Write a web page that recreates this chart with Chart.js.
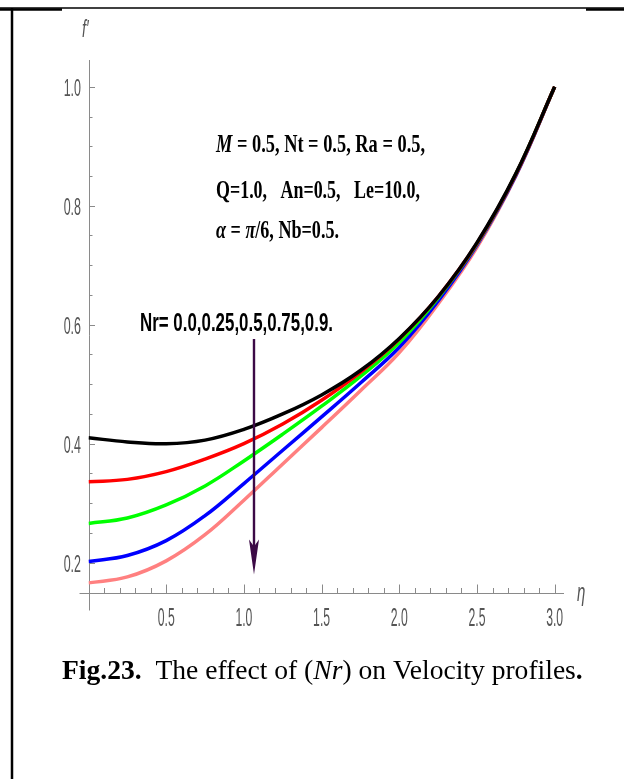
<!DOCTYPE html>
<html lang="en">
<head>
<meta charset="UTF-8">
<title>Fig.23 - effect of Nr on velocity profiles</title>
<script src="https://cdn.jsdelivr.net/npm/chart.js@4.4.0/dist/chart.umd.min.js"></script>
<style>
    body { margin: 0; background: #fff; }
    #wrap { position: relative; width: 624px; height: 779px; }
</style>
</head>
<body>
<div id="wrap"><canvas id="velChart" width="624" height="779"></canvas></div>
<script>
    // eta grid and f' values
    const etaValues = [0, 0.25, 0.5, 0.75, 1.0, 1.25, 1.5, 1.75, 2.0, 2.25, 2.5, 2.75, 3.0];
    const fNr000 = [0.410, 0.403, 0.400, 0.406, 0.424, 0.450, 0.482, 0.523, 0.577, 0.647, 0.738, 0.854, 1.0];
    const fNr025 = [0.336, 0.340, 0.353, 0.374, 0.400, 0.433, 0.473, 0.520, 0.576, 0.647, 0.737, 0.853, 1.0];
    const fNr050 = [0.266, 0.275, 0.297, 0.329, 0.371, 0.416, 0.463, 0.513, 0.570, 0.645, 0.736, 0.853, 1.0];
    const fNr075 = [0.202, 0.212, 0.237, 0.279, 0.333, 0.389, 0.445, 0.502, 0.562, 0.640, 0.734, 0.851, 1.0];
    const fNr090 = [0.166, 0.176, 0.203, 0.247, 0.305, 0.366, 0.427, 0.489, 0.553, 0.635, 0.730, 0.850, 1.0];

    const seriesLabels = ['Nr = 0.0', 'Nr = 0.25', 'Nr = 0.5', 'Nr = 0.75', 'Nr = 0.9'];
    const seriesColors = ['#000000', '#ff0000', '#00ff00', '#0000ff', '#ff8080'];

    const xTickValues = [0.5, 1.0, 1.5, 2.0, 2.5, 3.0];
    const xTickLabels = ['0.5', '1.0', '1.5', '2.0', '2.5', '3.0'];
    const yTickValues = [0.2, 0.4, 0.6, 0.8, 1.0];
    const yTickLabels = ['0.2', '0.4', '0.6', '0.8', '1.0'];

    const allSeries = [fNr000, fNr025, fNr050, fNr075, fNr090];

    const datasets = allSeries.map((vals, i) => ({
        label: seriesLabels[i],
        data: etaValues.map((eta, k) => ({ x: eta, y: vals[k] })),
        borderColor: seriesColors[i],
        borderWidth: 3.5,
        pointRadius: 0,
        showLine: true,
        fill: false,
        tension: 0.4
    }));

    // draw text squeezed horizontally (the original uses a very narrow face)
    function squeezed(ctx, text, x, y, font, sx, align) {
        ctx.save();
        ctx.font = font;
        ctx.translate(x, y);
        ctx.scale(sx, 1);
        ctx.textAlign = align || 'left';
        ctx.fillText(text, 0, 0);
        ctx.restore();
    }

    // run of styled pieces squeezed into a given width
    function fittedRun(ctx, pieces, x, y, width) {
        let total = 0;
        pieces.forEach(p => { ctx.font = p[1]; total += ctx.measureText(p[0]).width; });
        const sx = width / total;
        ctx.save();
        ctx.translate(x, y);
        ctx.scale(sx, 1);
        let cx = 0;
        pieces.forEach(p => {
            ctx.font = p[1];
            ctx.fillText(p[0], cx, 0);
            cx += ctx.measureText(p[0]).width;
        });
        ctx.restore();
    }

    const frame = {
        id: 'frame',
        beforeDraw(chart) {
            const ctx = chart.ctx;
            ctx.save();
            ctx.fillStyle = '#fff';
            ctx.fillRect(0, 0, chart.width, chart.height);
            ctx.strokeStyle = '#000';
            ctx.lineWidth = 1.5;
            ctx.beginPath(); ctx.moveTo(0, 8); ctx.lineTo(624, 8); ctx.stroke();
            ctx.lineWidth = 2.5;
            ctx.beginPath(); ctx.moveTo(0, 9.5); ctx.lineTo(62, 9.5); ctx.stroke();
            ctx.beginPath(); ctx.moveTo(586, 9.5); ctx.lineTo(624, 9.5); ctx.stroke();
            ctx.beginPath(); ctx.moveTo(12, 8); ctx.lineTo(12, 779); ctx.stroke();
            ctx.restore();
        }
    };

    const axes = {
        id: 'axes',
        beforeDatasetsDraw(chart) {
            const { ctx, chartArea } = chart;
            const xs = chart.scales.x, ys = chart.scales.y;
            const x0 = Math.round(xs.getPixelForValue(0)) + 0.5;
            const yb = Math.round(ys.getPixelForValue(ys.min)) + 0.5;
            ctx.save();
            ctx.strokeStyle = '#8a8a8a';
            ctx.lineWidth = 1;
            ctx.beginPath();
            ctx.moveTo(x0, chartArea.top); ctx.lineTo(x0, yb + 17);
            ctx.moveTo(x0 - 10, yb); ctx.lineTo(chartArea.right, yb);
            ctx.stroke();

            // x ticks: major every 0.5, minor every 0.1
            ctx.beginPath();
            for (let k = 1; k <= 30; k++) {
                const px = Math.round(xs.getPixelForValue(k / 10)) + 0.5;
                const len = k % 5 === 0 ? 9 : 5.5;
                ctx.moveTo(px, yb); ctx.lineTo(px, yb - len);
            }
            // y ticks: major every 0.2, minor every 0.05
            for (let k = 4; k <= 20; k++) {
                const py = Math.round(ys.getPixelForValue(k / 20)) + 0.5;
                if (py > yb - 2) continue;
                const len = k % 4 === 0 ? 5.5 : 3;
                ctx.moveTo(x0, py); ctx.lineTo(x0 + len, py);
            }
            ctx.stroke();

            ctx.fillStyle = '#555';
            ctx.textBaseline = 'alphabetic';
            xTickValues.forEach((v, i) => {
                squeezed(ctx, xTickLabels[i], xs.getPixelForValue(v), 626, '26px "Liberation Sans"', 0.47, 'center');
            });
            yTickValues.forEach((v, i) => {
                squeezed(ctx, yTickLabels[i], 81, ys.getPixelForValue(v) + 9.5, '24px "Liberation Sans"', 0.52, 'right');
            });
            squeezed(ctx, 'f\u2032', 82, 37, 'italic 24px "Liberation Sans"', 0.6, 'left');
            squeezed(ctx, '\u03b7', 577, 601, 'italic 25px "Liberation Sans"', 0.6, 'left');
            ctx.restore();
        },
        afterDatasetsDraw(chart) {
            const ctx = chart.ctx;
            const xs = chart.scales.x, ys = chart.scales.y;
            ctx.save();
            ctx.fillStyle = '#000';
            const serifB = 'bold 26px "Liberation Serif"';
            const serifBI = 'italic bold 26px "Liberation Serif"';
            fittedRun(ctx, [['M', serifBI], [' = 0.5, Nt = 0.5, Ra = 0.5,', serifB]], 216, 152, 209);
            fittedRun(ctx, [['Q=1.0,   An=0.5,   Le=10.0,', serifB]], 216, 198, 204);
            fittedRun(ctx, [['\u03b1', serifBI], [' = ', serifB], ['\u03c0', serifBI], ['/6, Nb=0.5.', serifB]], 216, 238, 123);
            fittedRun(ctx, [['Nr= 0.0,0.25,0.5,0.75,0.9.', 'bold 26px "Liberation Sans"']], 140, 331, 193);

            // arrow pointing towards increasing Nr
            const ax = xs.getPixelForValue(1.065);
            const aTop = ys.getPixelForValue(0.576);
            const aTip = ys.getPixelForValue(0.180);
            ctx.save();
            ctx.strokeStyle = '#3c0a46';
            ctx.fillStyle = '#3c0a46';
            ctx.lineWidth = 2.4;
            ctx.beginPath(); ctx.moveTo(ax, aTop); ctx.lineTo(ax, aTip - 20); ctx.stroke();
            ctx.beginPath();
            ctx.moveTo(ax, aTip);
            ctx.lineTo(ax - 5, aTip - 35);
            ctx.lineTo(ax, aTip - 28);
            ctx.lineTo(ax + 5, aTip - 35);
            ctx.closePath();
            ctx.fill();
            ctx.restore();

            // caption: font size chosen so the line spans the same width
            const capParts = [
                ['Fig.23.', 'bold'],
                ['  The effect of (', ''],
                ['Nr', 'italic'],
                [') on Velocity profiles', ''],
                ['.', 'bold']
            ];
            const capFont = (style, size) => (style ? style + ' ' : '') + size + 'px "Liberation Serif"';
            let w = 0;
            capParts.forEach(p => { ctx.font = capFont(p[1], 20); w += ctx.measureText(p[0]).width; });
            const capSize = 20 * 521 / w;
            let cx = 62;
            ctx.fillStyle = '#000';
            capParts.forEach(p => {
                ctx.font = capFont(p[1], capSize);
                ctx.fillText(p[0], cx, 679);
                cx += ctx.measureText(p[0]).width;
            });
            ctx.restore();
        }
    };

    new Chart(document.getElementById('velChart'), {
        type: 'scatter',
        data: { datasets },
        options: {
            responsive: false,
            animation: false,
            layout: { padding: { left: 88.5, right: 60, top: 60, bottom: 186 } },
            plugins: { legend: { display: false }, tooltip: { enabled: false } },
            scales: {
                x: { type: 'linear', min: 0, max: 3.06, display: false },
                y: { type: 'linear', min: 0.149, max: 1.045, display: false }
            }
        },
        plugins: [frame, axes]
    });
</script>
</body>
</html>
